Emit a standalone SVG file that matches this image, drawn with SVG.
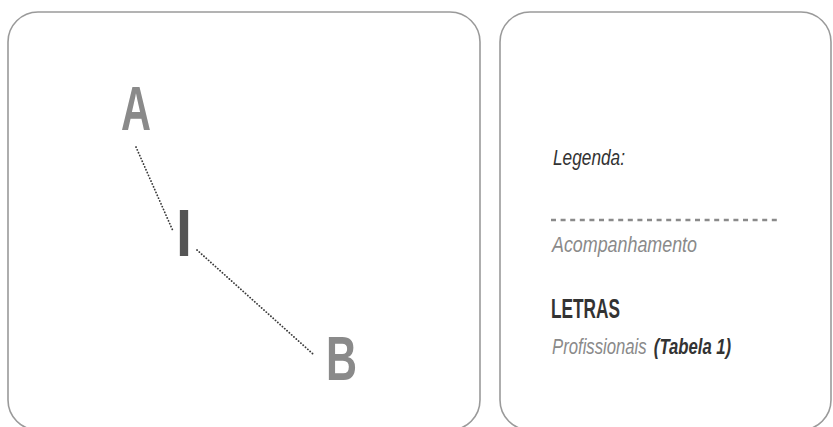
<svg xmlns="http://www.w3.org/2000/svg" width="833" height="427" viewBox="0 0 833 427">
  <style>
    .panel { fill: #ffffff; stroke: #9a9a9a; stroke-width: 1.6; }
    .letter { font-family: "Liberation Sans", Arial, sans-serif; font-weight: bold; }
    .link { fill: none; stroke: #3a3a3a; stroke-width: 1.8; stroke-linecap: round; stroke-dasharray: 0.1 3; }
    .legend { font-family: "Liberation Sans", Arial, sans-serif; }
  </style>
  <rect width="833" height="427" fill="#ffffff"/>

  <!-- panels -->
  <rect id="panel-diagram" class="panel" x="8" y="12" width="472" height="418" rx="30" ry="30"/>
  <rect id="panel-legend" class="panel" x="500" y="12" width="331" height="418" rx="30" ry="30"/>

  <!-- connectors -->
  <g id="connectors">
    <line class="link" x1="136" y1="147" x2="173" y2="231"/>
    <line class="link" x1="197" y1="250" x2="313" y2="354"/>
  </g>

  <!-- nodes -->
  <g id="node-A">
    <text class="letter" x="121" y="130" font-size="63" fill="#8a8a8a" textLength="30" lengthAdjust="spacingAndGlyphs">A</text>
  </g>
  <g id="node-I">
    <text class="letter" x="176" y="256" font-size="66" fill="#555555" textLength="16" lengthAdjust="spacingAndGlyphs">I</text>
  </g>
  <g id="node-B">
    <text class="letter" x="326" y="380" font-size="63" fill="#8a8a8a" textLength="31" lengthAdjust="spacingAndGlyphs">B</text>
  </g>

  <!-- legend -->
  <g id="legend">
    <text class="legend" x="553" y="165" font-size="22" font-style="italic" fill="#333333" textLength="72" lengthAdjust="spacingAndGlyphs">Legenda:</text>
    <line x1="551" y1="220" x2="781" y2="220" stroke="#8a8a8a" stroke-width="2.4" stroke-dasharray="5 4.6"/>
    <text class="legend" x="552" y="252" font-size="22" font-style="italic" fill="#8a8a8a" textLength="145" lengthAdjust="spacingAndGlyphs">Acompanhamento</text>
    <text class="legend" x="551" y="318" font-size="27" font-weight="bold" fill="#333333" textLength="69" lengthAdjust="spacingAndGlyphs">LETRAS</text>
    <!-- condensed line: horizontal scale instead of textLength -->
    <g transform="translate(552,354) scale(0.76,1)">
      <text class="legend" x="0" y="0" font-size="22" font-style="italic" fill="#8a8a8a">Profissionais</text>
      <text class="legend" x="134" y="0" font-size="22" font-style="italic" font-weight="bold" fill="#333333">(Tabela 1)</text>
    </g>
  </g>
</svg>
